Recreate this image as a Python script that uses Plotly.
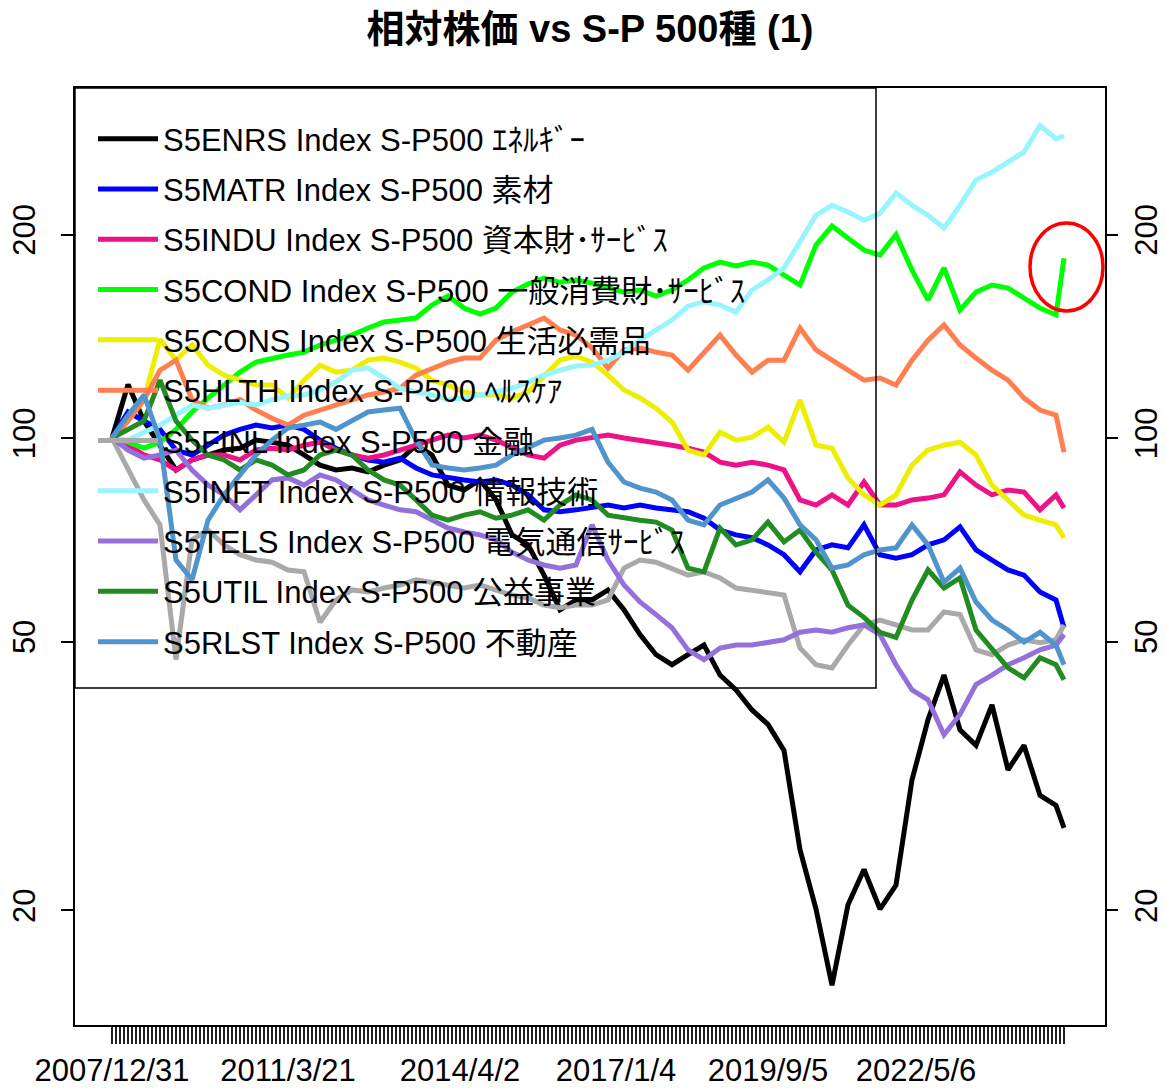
import plotly.graph_objects as go

# ---- data (relative price vs S&P 500, start = 100), sampled every 4 periods ----
periods = list(range(0, 237, 4)) + [238]

label_idx = [0, 44, 87, 126, 164, 201]
label_txt = ["2007/12/31", "2011/3/21", "2014/4/2", "2017/1/4", "2019/9/5", "2022/5/6"]
n_ticks = 239

names = [
    "S5ENRS Index S-P500 ｴﾈﾙｷﾞｰ",
    "S5MATR Index S-P500 素材",
    "S5INDU Index S-P500 資本財･ｻｰﾋﾞｽ",
    "S5COND Index S-P500 一般消費財･ｻｰﾋﾞｽ",
    "S5CONS Index S-P500 生活必需品",
    "S5HLTH Index S-P500 ﾍﾙｽｹｱ",
    "S5FINL Index S-P500 金融",
    "S5INFT Index S-P500 情報技術",
    "S5TELS Index S-P500 電気通信ｻｰﾋﾞｽ",
    "S5UTIL Index S-P500 公益事業",
    "S5RLST Index S-P500 不動産",
]
colors = ["#000000", "#0000FF", "#EE1289", "#00FF00", "#EEEE00", "#FF7F50",
          "#A9A9A9", "#98F5FF", "#9370DB", "#228B22", "#4F94CD"]

enrs = [100, 120, 106, 97.6, 89.7, 92.8, 94.4, 96, 96.6, 99.3,
        98.6, 97.6, 94.4, 91.2, 89.7, 90.3, 89.1, 91.2, 92.8, 97.6,
        94.4, 85.2, 83.8, 86.7, 81, 71.9, 69.5, 62.7, 55.7, 57.6,
        57.6, 59.6, 55.7, 51.2, 47.8, 46.2, 47.8, 49.4, 44.6, 42.4,
        39.6, 37.7, 34.5, 24.6, 20.1, 15.5, 20.4, 23.0, 20.1, 21.8,
        31.2, 38.3, 44.6, 37.0, 35.1, 40.3, 32.3, 35.1, 29.6, 28.6,
        26.5]
matr = [100, 109.3, 106, 103, 96, 94.4, 97.6, 101, 103, 104.5,
        103.5, 104.5, 103, 99.3, 96.6, 94.4, 92.8, 92.1, 93.4, 90.3,
        88.2, 87.3, 86.7, 86.1, 86.7, 85.2, 82.4, 78.3, 77.8, 78.3,
        78.8, 79.6, 78.8, 79.6, 78.8, 78.3, 77.8, 76.1, 73.1, 71.9,
        71.2, 69.5, 67.2, 63.4, 68.3, 69.5, 68.8, 74.4, 67.2, 66.4,
        67.2, 69.5, 70.7, 73.9, 68.3, 66, 63.8, 62.7, 59.2, 57.6,
        52.4]
indu = [100, 97.6, 94.4, 92.8, 89.7, 92.8, 94.4, 94.4, 92.8, 96,
        96.6, 96, 97.6, 98.6, 96, 94.4, 93.4, 94.4, 96, 97.6,
        99.3, 101, 100, 101, 99.3, 96.6, 94.4, 93.4, 97.6, 99.3,
        100, 101, 100, 99.3, 98.6, 97.6, 96.6, 95.3, 92.1, 91.2,
        92.1, 91.2, 89.7, 81, 79.6, 82.4, 79.6, 86.1, 79.6, 79.6,
        81, 81.5, 82.4, 89.1, 85.2, 82.4, 83.8, 83.2, 78.3, 82.4,
        78.8]
cond = [100, 98.6, 96.6, 98.6, 103, 109.3, 114.6, 120, 125.2, 129.5,
        131.3, 132.7, 134, 137.3, 139.6, 142, 145.5, 148.5, 149.5, 150.5,
        157.3, 162.2, 155.7, 152.6, 155.7, 164.4, 169, 172.5, 170, 171.3,
        169.5, 166.7, 164.4, 165.6, 162.2, 165.6, 171.3, 178.5, 182.1, 179.7,
        182.1, 180.3, 174.2, 168.4, 193, 205.9, 197.5, 189.7, 186.5, 200,
        177.2, 160, 178.5, 154.7, 164.4, 168.4, 166.7, 161, 155.7, 152.1,
        184.5]
cons = [100, 106, 114, 140, 130.4, 137.3, 128.2, 123.9, 121.8, 119.8,
        119.8, 114.6, 121.8, 128.2, 125.2, 126, 130.4, 131.3, 129.5, 126.9,
        121.8, 119.8, 117, 115.8, 115.8, 114.6, 117, 123.9, 130.4, 132.2,
        129.5, 123.9, 117.8, 114.6, 110.7, 105.6, 96, 94.4, 102, 99.3,
        100.3, 103.8, 98.6, 113.8, 97.6, 96.6, 87.3, 82.4, 79.6, 82.4,
        91.2, 96, 97.6, 98.6, 94.4, 85.2, 81, 76.9, 75.6, 74.4,
        71.2]
hlth = [99.3, 106, 114, 126, 130.4, 114, 110.7, 111.9, 114, 110,
        107, 104.5, 108.1, 110, 111.9, 114, 115.8, 117, 118.5, 123.9,
        126.9, 129.5, 131.3, 131.3, 139.6, 143.6, 147, 150.5, 144.5, 142,
        135.9, 126.9, 135, 135.9, 134, 132.7, 126, 134, 142, 132.7,
        125.2, 130.4, 130.4, 145.5, 135, 130.4, 126, 121.8, 122.7, 119.8,
        130.4, 139.6, 147, 137.3, 131.3, 126, 121.8, 114.6, 110, 108.1,
        95.3]
finl = [100, 89.7, 81, 74.4, 47, 70.7, 73.1, 69.5, 67.2, 66,
        65.5, 63.8, 63.4, 53.4, 57.6, 59.6, 59.2, 60, 60.6, 61.7,
        61.2, 60.6, 60, 60.6, 59.6, 58.6, 58, 56.6, 56.1, 56.6,
        56.6, 57.6, 64.2, 66, 65.5, 64.2, 62.7, 63.4, 62.1, 60,
        59.6, 59.2, 58.6, 48.9, 46.2, 45.7, 49.4, 52.9, 53.8, 52.9,
        52, 52, 55.3, 54.8, 48.6, 47.8, 49.4, 50.3, 49.8, 50.3,
        52.9]
inft = [100, 99.3, 102, 104.5, 108.1, 111.9, 110.7, 111.9, 113, 111.9,
        114, 115.4, 115.8, 117.8, 121, 126, 126.9, 122.7, 118.5, 117,
        115.8, 114, 114.6, 115.8, 117, 118.5, 121, 123.9, 126, 127.8,
        128.2, 130.4, 134, 139.6, 144.5, 149.5, 156.7, 159, 157.3, 153.6,
        165.6, 171.3, 178.5, 196, 213.6, 221, 216, 210, 215, 230.4,
        221, 213.6, 204.5, 221, 241, 247.4, 256, 265, 290, 277,
        280]
tels = [100, 96, 93.4, 94.4, 96, 89.7, 85.2, 82.4, 78.3, 82.4,
        86.7, 87.3, 85.2, 88.2, 86.7, 83.8, 81, 79.6, 78.3, 77.8,
        75.6, 73.6, 72.6, 71.9, 70.7, 67.8, 66, 64.9, 64.2, 64.9,
        74.4, 66, 60.6, 57.2, 54.8, 52.4, 48.6, 47, 48.9, 49.4,
        49.4, 49.9, 50.3, 51.6, 52, 51.6, 52.4, 52.9, 51.2, 46.2,
        42.4, 41, 36.4, 39, 43.2, 44.6, 46.2, 47.3, 48.6, 49.4,
        51.2]
util = [100, 103, 106, 121.8, 106, 99.3, 94.4, 92.8, 89.7, 92.8,
        91.2, 88.2, 89.7, 94.4, 96, 94.4, 89.7, 86.7, 85.2, 81,
        76.9, 75.6, 76.9, 77.8, 76.1, 76.9, 78.3, 75.6, 79.6, 82.4,
        81, 76.9, 76.1, 75.6, 75.1, 73.1, 64.2, 63.4, 73.6, 69.5,
        70.7, 75.1, 70.2, 73.1, 67.8, 63.8, 56.6, 54.3, 51.6, 50.7,
        57.6, 63.8, 60, 62.1, 52, 48.6, 45.7, 44.2, 47.3, 46.2,
        43.9]
rlst = [100, 108.1, 115.8, 99.3, 66, 61.7, 75.6, 82.4, 88.2, 94.4,
        99.3, 103.5, 104.5, 105.6, 103, 106, 109.3, 110, 110.7, 99.3,
        91.2, 90.3, 89.7, 90.3, 91.2, 94.4, 96.6, 99.3, 100, 101,
        103, 92.1, 86.1, 84.3, 83.2, 81, 75.6, 74.4, 79.6, 81.5,
        83.2, 86.7, 81.5, 74.4, 70.7, 64.2, 64.9, 67.2, 68.3, 68.8,
        74.4, 69.5, 61.2, 64.2, 57.2, 53.8, 52, 49.9, 51.6, 49.4,
        46.2]

series = [enrs, matr, indu, cond, cons, hlth, finl, inft, tels, util, rlst]
y_ticks = [20, 50, 100, 200]

# ---- figure ----
W, H = 1165, 1088
ML, MR, MT, MB = 75, 60, 88, 63
PW, PH = W - ML - MR, H - MT - MB
FONT = "Liberation Sans, Arial, Noto Sans CJK JP, sans-serif"


def px2paper_x(px):
    return (px - ML) / PW


def px2paper_y(py):
    return (H - MB - py) / PH


fig = go.Figure()
for i, (nm, col, vals) in enumerate(zip(names, colors, series)):
    fig.add_trace(go.Scatter(
        x=periods, y=vals, mode="lines", name=nm,
        line=dict(color=col, width=5),
        legendgroup=nm,
        yaxis="y2" if i == len(series) - 1 else "y",
        hoverinfo="skip",
    ))

ticktext = [""] * n_ticks
for k, t in zip(label_idx, label_txt):
    ticktext[k] = t

log_lo, log_hi = 1.1316, 2.5179
yax = dict(
    type="log", range=[log_lo, log_hi], tickmode="array",
    tickvals=y_ticks, ticktext=[str(v) for v in y_ticks],
    tickangle=-90, ticks="outside", ticklen=12, tickwidth=2, tickcolor="black",
    showgrid=False, zeroline=False, automargin=False,
    tickfont=dict(family=FONT, size=31, color="black"),
)

fig.update_layout(
    width=W, height=H,
    margin=dict(l=ML, r=MR, t=MT, b=MB, autoexpand=False),
    paper_bgcolor="white", plot_bgcolor="white",
    title=dict(text="<b>相対株価 vs S-P 500種 (1)</b>", x=0.5, xref="paper",
               y=1 - 29 / H, yref="container", yanchor="middle", automargin=False,
               font=dict(family=FONT, size=38, color="black")),
    xaxis=dict(range=[-9.25, 248.25], tickmode="array",
               tickvals=list(range(n_ticks)), ticktext=ticktext,
               ticks="outside", ticklen=17, tickwidth=1.5, tickcolor="#222",
               showline=True, mirror=True, linecolor="black", linewidth=2,
               showgrid=False, zeroline=False, tickangle=0, automargin=False,
               tickfont=dict(family=FONT, size=31, color="black")),
    yaxis=dict(**yax, showline=True, mirror=True, linecolor="black", linewidth=2,
               ticklabelstandoff=14),
    yaxis2=dict(**yax, overlaying="y", side="right", anchor="x", showline=False,
                ticklabelstandoff=2),
    showlegend=True,
    legend=dict(x=px2paper_x(93), y=px2paper_y(112), xanchor="left", yanchor="top",
                bgcolor="rgba(0,0,0,0)", borderwidth=0,
                font=dict(family=FONT, size=31, color="black"),
                traceorder="grouped", tracegroupgap=7, itemwidth=60),
    shapes=[
        dict(type="rect", xref="paper", yref="paper",
             x0=0, x1=px2paper_x(876), y0=px2paper_y(688), y1=1,
             line=dict(color="black", width=1.5), fillcolor="rgba(0,0,0,0)"),
        dict(type="circle", xref="paper", yref="paper",
             x0=px2paper_x(1030), x1=px2paper_x(1103),
             y0=px2paper_y(311), y1=px2paper_y(223),
             line=dict(color="red", width=3.5)),
    ],
)

fig.write_html("out.html", config={"displayModeBar": False},
               post_script="document.body.style.margin='0';document.body.style.overflow='hidden';")
